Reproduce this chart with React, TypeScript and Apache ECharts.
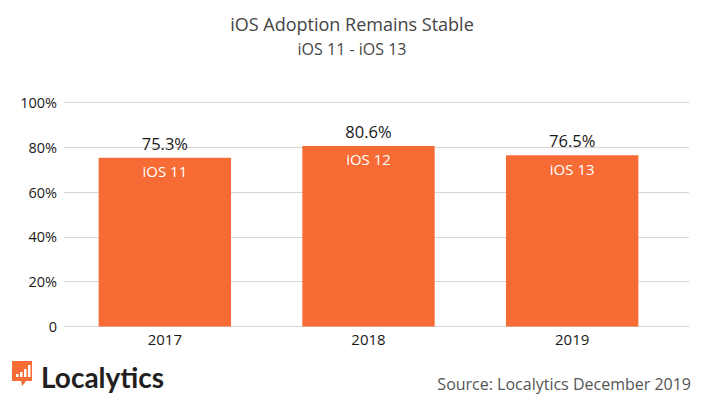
import React, { useEffect, useRef } from "react";
import * as echarts from "echarts";

const years = ["2017", "2018", "2019"];
const adoption = [75.3, 80.6, 76.5];
const versions = ["iOS 11", "iOS 12", "iOS 13"];
const yTicks = [0, 20, 40, 60, 80, 100];

const ORANGE = "#F76B35";
const FONT = "'Open Sans', 'Noto Sans', sans-serif";

export default function App() {
  const ref = useRef<HTMLDivElement>(null);
  useEffect(() => {
    if (!ref.current) return;
    const chart = echarts.init(ref.current, undefined, { renderer: "svg" });
    const yCommon = {
      type: "value" as const,
      min: yTicks[0],
      max: yTicks[yTicks.length - 1],
      interval: 20,
      axisLine: { show: false },
      axisTick: { show: false },
    };
    chart.setOption({
      animation: false,
      backgroundColor: "#ffffff",
      title: [
        {
          text: "iOS Adoption Remains Stable",
          left: "center",
          top: 10,
          textStyle: { fontFamily: FONT, fontSize: 18, fontWeight: "normal", color: "#444444" },
        },
        {
          text: "iOS 11 - iOS 13",
          left: "center",
          top: 36,
          textStyle: { fontFamily: FONT, fontSize: 16, fontWeight: "normal", color: "#444444" },
        },
        {
          text: "Source: Localytics December 2019",
          right: 8,
          top: 371,
          textStyle: { fontFamily: FONT, fontSize: 16, fontWeight: "normal", color: "#555555" },
        },
        {
          text: "Localytics",
          left: 36,
          top: 358,
          textStyle: { fontFamily: "Lato, 'Open Sans', sans-serif", fontSize: 28, fontWeight: "bold", color: "#231f20" },
        },
      ],
      grid: [
        { left: 64, right: 15, top: 102.5, bottom: 70.5 },
        { left: 63, right: 30, top: 102.5, bottom: 70.5 },
      ],
      xAxis: [
        {
          gridIndex: 0,
          type: "category",
          data: years,
          show: false,
        },
        {
          gridIndex: 1,
          type: "category",
          data: years,
          axisLine: { show: false },
          axisTick: { show: false },
          axisLabel: { fontFamily: FONT, fontSize: 15, color: "#1a1a1a", margin: 5 },
        },
      ],
      yAxis: [
        {
          ...yCommon,
          gridIndex: 0,
          splitLine: { lineStyle: { color: "#d9d5d5", width: 1 } },
          axisLabel: {
            fontFamily: FONT,
            fontSize: 14.5,
            color: "#1a1a1a",
            margin: 7,
            formatter: (v: number) => (v === 0 ? "0" : v + "%"),
          },
        },
        {
          ...yCommon,
          gridIndex: 1,
          splitLine: { show: false },
          axisLabel: { show: false },
        },
      ],
      series: [
        {
          type: "bar",
          xAxisIndex: 1,
          yAxisIndex: 1,
          data: adoption,
          barWidth: "65%",
          itemStyle: { color: ORANGE },
          label: {
            show: true,
            position: "top",
            distance: 6,
            fontFamily: FONT,
            fontSize: 16.5,
            color: "#1a1a1a",
            formatter: (p: any) => p.value.toFixed(1) + "%",
          },
          z: 3,
        },
        {
          type: "bar",
          xAxisIndex: 1,
          yAxisIndex: 1,
          data: adoption,
          barWidth: "65%",
          barGap: "-100%",
          itemStyle: { color: "transparent" },
          label: {
            show: true,
            position: "insideTop",
            distance: 6,
            fontFamily: FONT,
            fontSize: 15,
            color: "#ffffff",
            formatter: (p: any) => versions[p.dataIndex],
          },
          z: 4,
        },
      ],
      graphic: [
        {
          type: "group",
          left: 12,
          top: 361,
          children: [
            { type: "rect", shape: { x: 0, y: 0, width: 20, height: 20 }, style: { fill: ORANGE } },
            { type: "polygon", shape: { points: [[9, 19], [15, 19], [10, 25]] }, style: { fill: ORANGE } },
            { type: "rect", shape: { x: 4, y: 13, width: 2.5, height: 3 }, style: { fill: "#fff" } },
            { type: "rect", shape: { x: 8, y: 11, width: 2.5, height: 5 }, style: { fill: "#fff" } },
            { type: "rect", shape: { x: 12, y: 8, width: 2.5, height: 8 }, style: { fill: "#fff" } },
            { type: "rect", shape: { x: 16, y: 4, width: 2.5, height: 12 }, style: { fill: "#fff" } },
          ],
        },
      ],
    });
    return () => chart.dispose();
  }, []);
  return <div ref={ref} style={{ width: 704, height: 397, position: "absolute", left: 0, top: 0 }} />;
}
